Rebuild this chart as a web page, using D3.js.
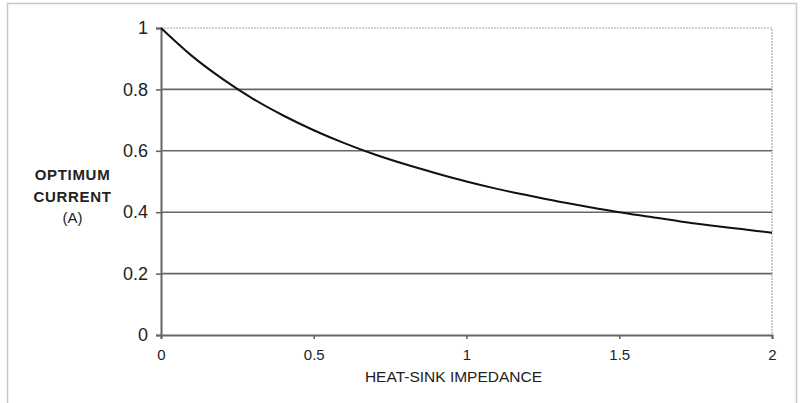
<html>
<script src='https://d3js.org/d3.v7.min.js'></script>
<body style='margin:0;background:#fff'>
<div id='vis'></div>
<script>
// values
const impedance = [0, 0.1, 0.2, 0.3, 0.4, 0.5, 0.6, 0.7, 0.8, 0.9, 1.0, 1.1, 1.2, 1.3, 1.4, 1.5, 1.6, 1.7, 1.8, 1.9, 2.0];
const current = [1, 0.91, 0.835, 0.77, 0.715, 0.667, 0.625, 0.588, 0.556, 0.527, 0.5, 0.476, 0.455, 0.435, 0.417, 0.4, 0.385, 0.37, 0.357, 0.345, 0.333];
const xTicks = [0, 0.5, 1, 1.5, 2];
const yTicks = [0, 0.2, 0.4, 0.6, 0.8, 1];
const yTitle = ['OPTIMUM', 'CURRENT', '(A)'];
const xTitle = 'HEAT-SINK IMPEDANCE';

const W = 805, H = 403;
const m = {left: 161, right: 33, top: 28, bottom: 68};
const svg = d3.select('#vis').append('svg').attr('width', W).attr('height', H)
    .style('font-family', 'Liberation Sans, Arial, sans-serif');

// outer frame
svg.append('rect').attr('x', 7.5).attr('y', 3.5).attr('width', 789).attr('height', 410)
    .attr('fill', 'none').attr('stroke', '#c8c8c8').attr('stroke-width', 1.5);

const x = d3.scaleLinear().domain([0, 2]).range([m.left, W - m.right]);
const y = d3.scaleLinear().domain([0, 1]).range([H - m.bottom, m.top]);

// plot area border (top/right)
svg.append('path')
    .attr('d', `M${x(0)},${y(1)}H${x(2)}V${y(0)}`)
    .attr('fill', 'none').attr('stroke', '#aaa').attr('stroke-width', 1.2)
    .attr('stroke-dasharray', '2,1');

// gridlines
svg.append('g').selectAll('line').data(yTicks.filter(d => d > 0 && d < 1)).join('line')
    .attr('x1', x(0)).attr('x2', x(2)).attr('y1', d => y(d)).attr('y2', d => y(d))
    .attr('stroke', '#666').attr('stroke-width', 1.6);

// y axis
const ya = svg.append('g').attr('transform', `translate(${x(0)},0)`)
    .call(d3.axisLeft(y).tickValues(yTicks).tickFormat(d3.format('~g')).tickSize(5).tickPadding(8));
ya.select('.domain').attr('stroke', '#666').attr('stroke-width', 2);
ya.selectAll('.tick line').attr('stroke', '#666').attr('stroke-width', 1.6);
ya.selectAll('text').attr('font-size', 18).attr('fill', '#222');

// x axis
const xa = svg.append('g').attr('transform', `translate(0,${y(0)})`)
    .call(d3.axisBottom(x).tickValues(xTicks).tickFormat(d3.format('~g')).tickSize(4).tickPadding(10));
xa.select('.domain').attr('stroke', '#666').attr('stroke-width', 2);
xa.selectAll('.tick line').attr('stroke', '#666').attr('stroke-width', 1.6);
xa.selectAll('text').attr('font-size', 15).attr('fill', '#222');

// curve
svg.append('path').datum(impedance.map((d, i) => [d, current[i]]))
    .attr('d', d3.line().x(d => x(d[0])).y(d => y(d[1])).curve(d3.curveMonotoneX))
    .attr('fill', 'none').attr('stroke', '#111').attr('stroke-width', 2);

// titles
svg.append('text').attr('x', 453.5).attr('y', 382).attr('text-anchor', 'middle')
    .attr('font-size', 15.5).attr('fill', '#222').text(xTitle);
svg.append('g').selectAll('text').data(yTitle).join('text')
    .attr('x', 72.5).attr('y', (d, i) => 180 + i * 21.5).attr('text-anchor', 'middle')
    .attr('font-size', 15).attr('font-weight', (d, i) => i < 2 ? 'bold' : 'normal')
    .attr('letter-spacing', (d, i) => i < 2 ? 0.7 : 0)
    .attr('fill', '#222').text(d => d);
</script>
</body>
</html>
